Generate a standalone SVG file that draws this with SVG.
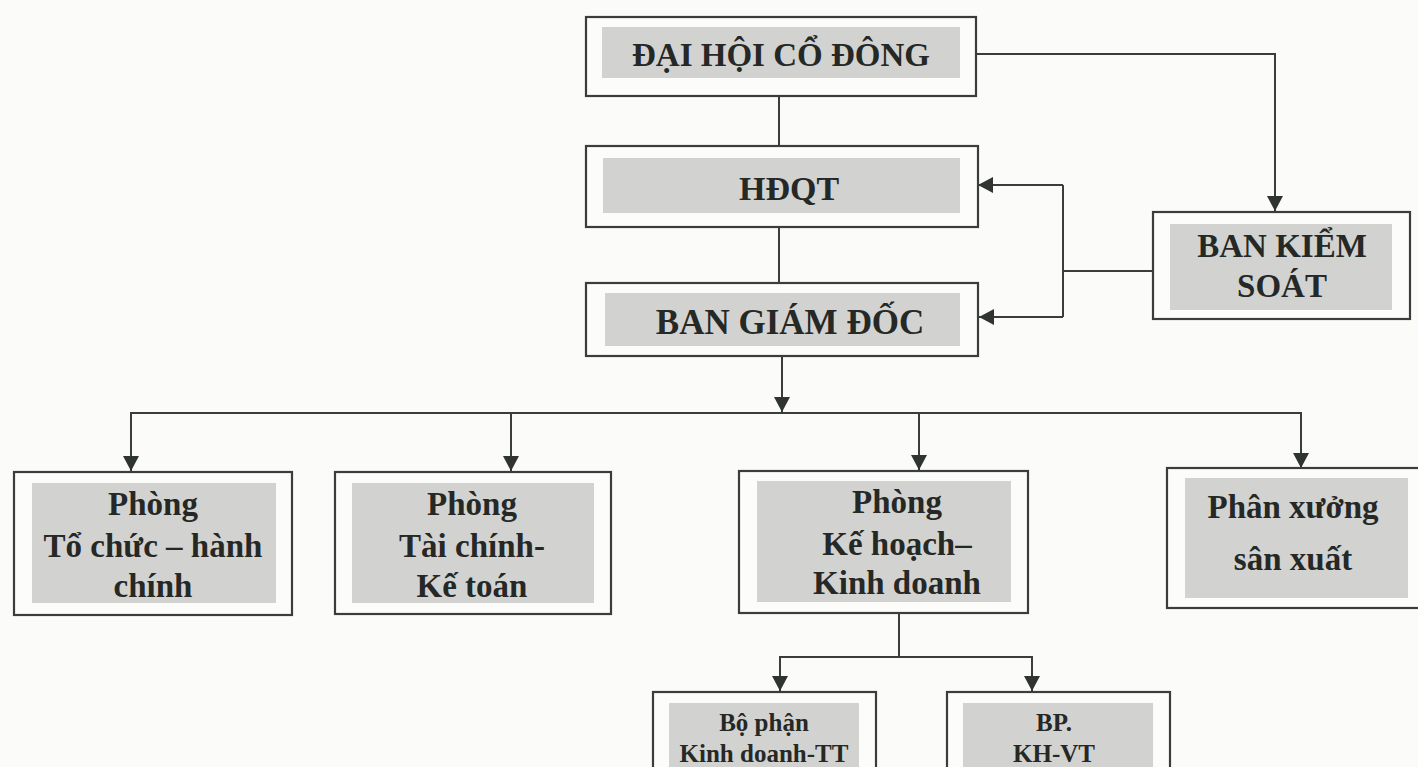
<svg xmlns="http://www.w3.org/2000/svg" width="1418" height="767" viewBox="0 0 1418 767">
<defs>
<marker id="arr" markerUnits="userSpaceOnUse" markerWidth="18" markerHeight="18" refX="15" refY="8" orient="auto">
<path d="M0,0 L15,8 L0,16 Z" fill="#2f3431"/>
</marker>
<style>
.box{fill:#fcfdfb;stroke:#3a3d3b;stroke-width:2.2}
.in{fill:#d2d3d1}
.t{font-family:"Liberation Serif","Times New Roman",serif;font-weight:bold;fill:#262826;text-anchor:middle}
.c{fill:none;stroke:#3a3d3b;stroke-width:2}
.a{fill:none;stroke:#3a3d3b;stroke-width:2;marker-end:url(#arr)}
</style>
</defs>
<rect width="1418" height="767" fill="#fbfcf9"/>
<g id="connectors">
<path class="c" d="M779 96 V146"/>
<path class="c" d="M779 227 V283"/>
<path class="a" d="M976 54 H1275 V211"/>
<path class="c" d="M1153 271 H1063"/>
<path class="c" d="M1063 185 V317"/>
<path class="a" d="M1063 185 H978"/>
<path class="a" d="M1063 317 H979"/>
<path class="a" d="M782 356 V412"/>
<path class="c" d="M130 413 H1302"/>
<path class="a" d="M131 413 V471"/>
<path class="a" d="M511 413 V471"/>
<path class="a" d="M919 413 V470"/>
<path class="a" d="M1301 413 V468"/>
<path class="c" d="M899 613 V657"/>
<path class="c" d="M779 657 H1033"/>
<path class="a" d="M780 657 V691"/>
<path class="a" d="M1032 657 V691"/>
</g>
<g id="dhcd">
<rect class="box" x="586" y="17" width="390" height="79"/>
<rect class="in" x="602" y="27" width="358" height="51"/>
<text class="t" x="781" y="66" font-size="33">ĐẠI HỘI CỔ ĐÔNG</text>
</g>
<g id="hdqt">
<rect class="box" x="586" y="146" width="392" height="81"/>
<rect class="in" x="603" y="158" width="357" height="55"/>
<text class="t" x="789" y="200" font-size="34">HĐQT</text>
</g>
<g id="bgd">
<rect class="box" x="586" y="283" width="392" height="73"/>
<rect class="in" x="605" y="293" width="355" height="53"/>
<text class="t" x="790" y="334" font-size="35">BAN GIÁM ĐỐC</text>
</g>
<g id="bks">
<rect class="box" x="1153" y="212" width="257" height="107"/>
<rect class="in" x="1170" y="224" width="222" height="86"/>
<text class="t" x="1282" y="257" font-size="33">BAN KIỂM</text>
<text class="t" x="1282" y="297" font-size="33">SOÁT</text>
</g>
<g id="tochuc">
<rect class="box" x="14" y="472" width="278" height="143"/>
<rect class="in" x="32" y="483" width="244" height="120"/>
<text class="t" x="153" y="515" font-size="33">Phòng</text>
<text class="t" x="153" y="557" font-size="33">Tổ chức – hành</text>
<text class="t" x="153" y="597" font-size="33">chính</text>
</g>
<g id="taichinh">
<rect class="box" x="335" y="472" width="276" height="142"/>
<rect class="in" x="352" y="483" width="242" height="120"/>
<text class="t" x="472" y="515" font-size="33">Phòng</text>
<text class="t" x="472" y="557" font-size="33">Tài chính-</text>
<text class="t" x="472" y="597" font-size="33">Kế toán</text>
</g>
<g id="kehoach">
<rect class="box" x="739" y="471" width="289" height="142"/>
<rect class="in" x="757" y="481" width="254" height="121"/>
<text class="t" x="897" y="513" font-size="33">Phòng</text>
<text class="t" x="897" y="555" font-size="33">Kế hoạch–</text>
<text class="t" x="897" y="594" font-size="33">Kinh doanh</text>
</g>
<g id="phanxuong">
<rect class="box" x="1167" y="468" width="260" height="140"/>
<rect class="in" x="1185" y="478" width="223" height="120"/>
<text class="t" x="1293" y="518" font-size="33">Phân xưởng</text>
<text class="t" x="1293" y="570" font-size="33">sân xuất</text>
</g>
<g id="bpkd">
<rect class="box" x="653" y="692" width="223" height="90"/>
<rect class="in" x="669" y="703" width="190" height="70"/>
<text class="t" x="764" y="731" font-size="25">Bộ phận</text>
<text class="t" x="764" y="762" font-size="25">Kinh doanh-TT</text>
</g>
<g id="bpkhvt">
<rect class="box" x="947" y="692" width="223" height="90"/>
<rect class="in" x="963" y="703" width="190" height="70"/>
<text class="t" x="1054" y="731" font-size="25">BP.</text>
<text class="t" x="1054" y="762" font-size="25">KH-VT</text>
</g>
</svg>
